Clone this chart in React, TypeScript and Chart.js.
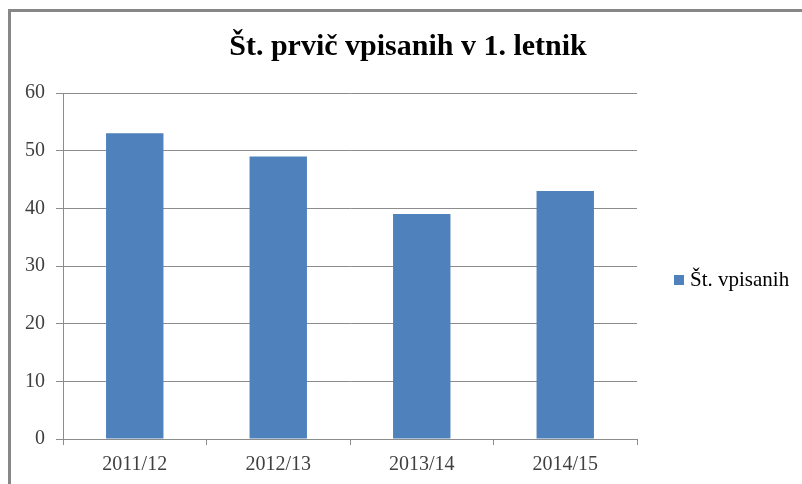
import React, { useEffect, useRef } from "react";
import { Chart, registerables } from "chart.js";

Chart.register(...registerables);

const categories: string[] = ["2011/12", "2012/13", "2013/14", "2014/15"];
const values: number[] = [53, 49, 39, 43];
const seriesLabel = "Št. vpisanih";
const titleText = "Št. prvič vpisanih v 1. letnik";
const yMin = 0;
const yMax = 60;
const yStep = 10;

const BAR_COLOR = "#4f81bd";
const LINE_COLOR = "#8c8c8c";
const TEXT_COLOR = "#404040";
const FONT_FAMILY = "'Liberation Serif', 'Times New Roman', serif";

const borderPlugin = {
  id: "frameBorder",
  beforeDraw(chart: any) {
    const ctx = chart.ctx;
    ctx.save();
    ctx.fillStyle = "#ffffff";
    ctx.fillRect(0, 0, chart.width, chart.height);
    ctx.strokeStyle = "#878787";
    ctx.lineWidth = 3;
    ctx.beginPath();
    ctx.moveTo(9.5, chart.height + 5);
    ctx.lineTo(9.5, 10.5);
    ctx.lineTo(chart.width + 5, 10.5);
    ctx.stroke();
    ctx.restore();
  },
};

const legendPlugin = {
  id: "sideLegend",
  afterDraw(chart: any) {
    const ctx = chart.ctx;
    const { right, top, bottom } = chart.chartArea;
    const cy = (top + bottom) / 2 + 14;
    chart.data.datasets.forEach((ds: any, i: number) => {
      const y = cy + i * 24;
      ctx.save();
      ctx.fillStyle = ds.backgroundColor;
      ctx.fillRect(right + 37, y - 5, 10, 10);
      ctx.fillStyle = "#000000";
      ctx.font = `21px ${FONT_FAMILY}`;
      ctx.textAlign = "left";
      ctx.textBaseline = "middle";
      ctx.fillText(ds.label, right + 53, y);
      ctx.restore();
    });
  },
};

export default function App() {
  const canvasRef = useRef<HTMLCanvasElement | null>(null);

  useEffect(() => {
    if (!canvasRef.current) return;
    const chart = new Chart(canvasRef.current, {
      type: "bar",
      data: {
        labels: categories,
        datasets: [
          {
            label: seriesLabel,
            data: values,
            backgroundColor: BAR_COLOR,
            borderWidth: 0,
            categoryPercentage: 1,
            barPercentage: 0.4,
            yAxisID: "y",
          },
        ],
      },
      options: {
        responsive: false,
        animation: false,
        devicePixelRatio: 1,
        layout: { padding: { left: 14, right: 0, top: 0, bottom: 0 } },
        plugins: {
          legend: { display: false },
          tooltip: { enabled: false },
          title: {
            display: true,
            text: titleText,
            color: "#000000",
            font: { family: FONT_FAMILY, size: 30, weight: "bold" },
            padding: { top: 29, bottom: 28 },
          },
        },
        scales: {
          x: {
            grid: {
              display: true,
              drawOnChartArea: false,
              drawTicks: true,
              tickLength: 6,
              color: LINE_COLOR,
              offset: true,
            },
            border: { display: true, color: LINE_COLOR, width: 1 },
            ticks: {
              color: TEXT_COLOR,
              font: { family: FONT_FAMILY, size: 20 },
              padding: 8,
              maxRotation: 0,
            },
            afterFit: (s: any) => {
              s.height = 45;
            },
          },
          y: {
            min: yMin,
            max: yMax,
            ticks: {
              stepSize: yStep,
              color: TEXT_COLOR,
              font: { family: FONT_FAMILY, size: 20 },
              padding: 11,
            },
            grid: { color: LINE_COLOR, tickLength: 7 },
            border: { display: true, color: LINE_COLOR, width: 1 },
            afterFit: (s: any) => {
              s.width = 49;
            },
          },
          y2: {
            type: "linear",
            position: "right",
            display: false,
            afterFit: (s: any) => {
              s.width = 165;
            },
          },
        },
      },
      plugins: [borderPlugin, legendPlugin],
    } as any);
    return () => chart.destroy();
  }, []);

  return (
    <div style={{ position: "fixed", left: 0, top: 0, width: 802, height: 484 }}>
      <canvas ref={canvasRef} width={802} height={484} style={{ display: "block", width: 802, height: 484 }} />
    </div>
  );
}
